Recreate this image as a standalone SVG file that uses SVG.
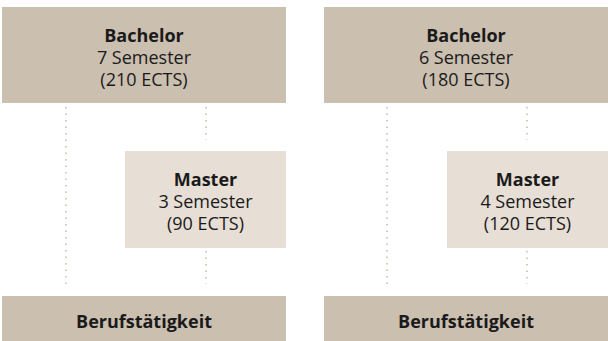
<svg xmlns="http://www.w3.org/2000/svg" width="608" height="341" viewBox="0 0 608 341">
<style>
.dark{fill:#cbbfb0}
.light{fill:#e7ded5}
text{font-family:"Open Sans","Noto Sans",sans-serif;font-size:18px;fill:#1a1a1a;text-anchor:middle}
.b{font-weight:bold}
.dot{stroke:#cdbcab;stroke-width:1.6;stroke-dasharray:1.6 4.9;fill:none}
</style>
<rect width="608" height="341" fill="#ffffff"/>
<g id="connectors">
<line class="dot" x1="66" y1="107" x2="66" y2="284"/>
<line class="dot" x1="206" y1="107" x2="206" y2="140"/>
<line class="dot" x1="206" y1="251" x2="206" y2="284"/>
<line class="dot" x1="387" y1="107" x2="387" y2="284"/>
<line class="dot" x1="527" y1="107" x2="527" y2="140"/>
<line class="dot" x1="527" y1="251" x2="527" y2="284"/>
</g>
<g id="bachelor1">
<rect class="dark" x="2" y="7" width="284" height="96"/>
<text x="144" y="42.3" class="b">Bachelor</text>
<text x="144" y="64">7 Semester</text>
<text x="144" y="85.7">(210 ECTS)</text>
</g>
<g id="master1">
<rect class="light" x="125" y="151" width="161" height="97"/>
<text x="205.5" y="186.3" class="b">Master</text>
<text x="205.5" y="208">3 Semester</text>
<text x="205.5" y="229.7">(90 ECTS)</text>
</g>
<g id="beruf1">
<rect class="dark" x="2" y="296" width="284" height="45"/>
<text x="144" y="327.5" class="b">Berufstätigkeit</text>
</g>
<g id="bachelor2">
<rect class="dark" x="324" y="7" width="284" height="96"/>
<text x="466" y="42.3" class="b">Bachelor</text>
<text x="466" y="64">6 Semester</text>
<text x="466" y="85.7">(180 ECTS)</text>
</g>
<g id="master2">
<rect class="light" x="447" y="151" width="161" height="97"/>
<text x="527.5" y="186.3" class="b">Master</text>
<text x="527.5" y="208">4 Semester</text>
<text x="527.5" y="229.7">(120 ECTS)</text>
</g>
<g id="beruf2">
<rect class="dark" x="324" y="296" width="284" height="45"/>
<text x="466" y="327.5" class="b">Berufstätigkeit</text>
</g>
</svg>
